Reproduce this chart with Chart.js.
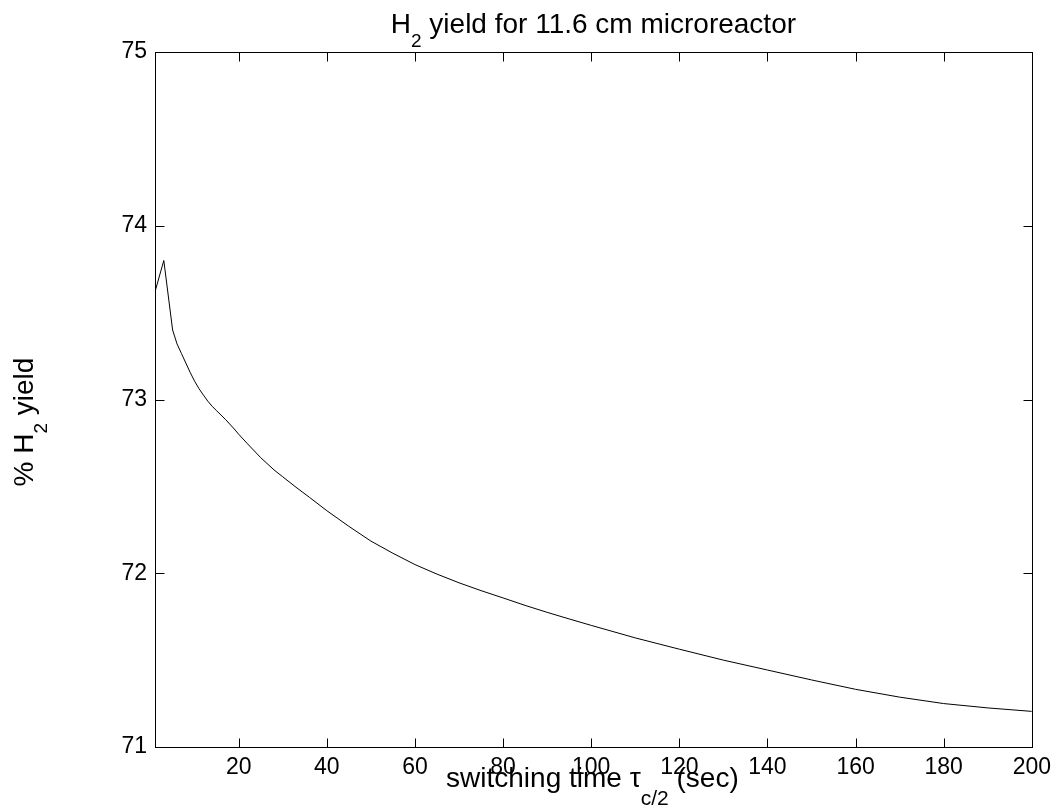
<!DOCTYPE html>
<html lang="en">
<head>
<meta charset="UTF-8">
<title>H2 yield for 11.6 cm microreactor</title>
<script src="https://cdn.jsdelivr.net/npm/chart.js"></script>
<style>
  html, body { margin: 0; padding: 0; background: #fff; }
  canvas { display: block; }
</style>
</head>
<body>
<canvas id="yieldChart" width="1058" height="809"></canvas>
<script>
  // switching time tau_c/2 (sec) and % H2 yield
  const switchTime = [1, 3, 5, 6, 7, 8, 9, 10, 11, 12, 13, 14, 15, 17, 19, 20, 22, 25, 28, 30,
    33, 36, 40, 45, 50, 55, 60, 65, 70, 75, 80, 85, 90, 95, 100,
    110, 120, 130, 140, 150, 160, 170, 180, 190, 200];
  const h2Yield = [73.62, 73.80, 73.40, 73.32, 73.265, 73.21, 73.155, 73.105, 73.062, 73.025,
    72.99, 72.96, 72.935, 72.885, 72.83, 72.80, 72.745, 72.665, 72.595, 72.555,
    72.495, 72.438, 72.36, 72.27, 72.185, 72.115, 72.05, 71.995, 71.945, 71.90,
    71.858, 71.815, 71.775, 71.737, 71.70,
    71.628, 71.563, 71.50, 71.443, 71.386, 71.332, 71.287, 71.25, 71.225, 71.205];

  const xTicks = [20, 40, 60, 80, 100, 120, 140, 160, 180, 200];
  const yTicks = [71, 72, 73, 74, 75];

  const FONT = '"Liberation Sans", Arial, Helvetica, sans-serif';
  const TICK_LEN = 9;

  // draws text pieces in a row, some of them as subscripts
  const drawParts = (ctx, parts, cx, baseY) => {
    let total = 0;
    parts.forEach(p => {
      ctx.font = p.size + 'px ' + FONT;
      p.w = ctx.measureText(p.text).width;
      total += p.w;
    });
    let x = cx - total / 2;
    parts.forEach(p => {
      ctx.font = p.size + 'px ' + FONT;
      ctx.fillText(p.text, x, baseY + (p.dy || 0));
      x += p.w;
    });
  };

  const framePlugin = {
    id: 'frame',
    afterDraw(chart) {
      const { ctx, chartArea: a, scales: { x, y } } = chart;
      const L = Math.round(a.left) + 0.5, R = Math.round(a.right) + 0.5;
      const T = Math.round(a.top) + 0.5, B = Math.round(a.bottom) + 0.5;
      ctx.save();
      ctx.strokeStyle = '#000';
      ctx.lineWidth = 1;
      ctx.strokeRect(L, T, R - L, B - T);

      ctx.beginPath();
      xTicks.forEach(v => {
        const px = Math.round(x.getPixelForValue(v)) + 0.5;
        ctx.moveTo(px, B); ctx.lineTo(px, B - TICK_LEN);
        ctx.moveTo(px, T); ctx.lineTo(px, T + TICK_LEN);
      });
      yTicks.forEach(v => {
        const py = Math.round(y.getPixelForValue(v)) + 0.5;
        ctx.moveTo(L, py); ctx.lineTo(L + TICK_LEN, py);
        ctx.moveTo(R, py); ctx.lineTo(R - TICK_LEN, py);
      });
      ctx.stroke();

      ctx.fillStyle = '#000';
      ctx.textBaseline = 'alphabetic';
      ctx.textAlign = 'left';
      const mid = (a.left + a.right) / 2;

      drawParts(ctx, [
        { text: 'H', size: 28 },
        { text: '2', size: 19, dy: 14 },
        { text: ' yield for 11.6 cm microreactor', size: 28 }
      ], mid, 33);

      drawParts(ctx, [
        { text: 'switching time \u03c4', size: 28 },
        { text: 'c/2', size: 21, dy: 18 },
        { text: ' (sec)', size: 28 }
      ], mid - 1, 787);

      ctx.translate(33, 422);
      ctx.rotate(-Math.PI / 2);
      drawParts(ctx, [
        { text: '% H', size: 28 },
        { text: '2', size: 19, dy: 14 },
        { text: ' yield', size: 28 }
      ], 0, 0);
      ctx.restore();
    }
  };

  new Chart(document.getElementById('yieldChart'), {
    type: 'line',
    data: {
      datasets: [{
        data: switchTime.map((t, i) => ({ x: t, y: h2Yield[i] })),
        borderColor: '#000',
        borderWidth: 1,
        pointRadius: 0,
        tension: 0,
        fill: false
      }]
    },
    options: {
      responsive: false,
      animation: false,
      layout: { padding: { top: 52, right: 22, left: 0, bottom: 0 } },
      plugins: {
        legend: { display: false },
        tooltip: { enabled: false },
        title: { display: false }
      },
      scales: {
        x: {
          type: 'linear',
          min: 1,
          max: 200,
          grid: { display: false, drawTicks: false },
          border: { display: false },
          afterBuildTicks: s => { s.ticks = xTicks.map(v => ({ value: v })); },
          afterFit: s => { s.height = 62; },
          ticks: {
            color: '#000',
            font: { family: FONT, size: 23 },
            padding: 7,
            maxRotation: 0,
            autoSkip: false
          }
        },
        y: {
          min: 71,
          max: 75,
          grid: { display: false, drawTicks: false },
          border: { display: false },
          afterBuildTicks: s => { s.ticks = yTicks.map(v => ({ value: v })); },
          afterFit: s => { s.width = 155; },
          ticks: {
            color: '#000',
            font: { family: FONT, size: 23 },
            padding: 8
          }
        }
      }
    },
    plugins: [framePlugin]
  });
</script>
</body>
</html>
